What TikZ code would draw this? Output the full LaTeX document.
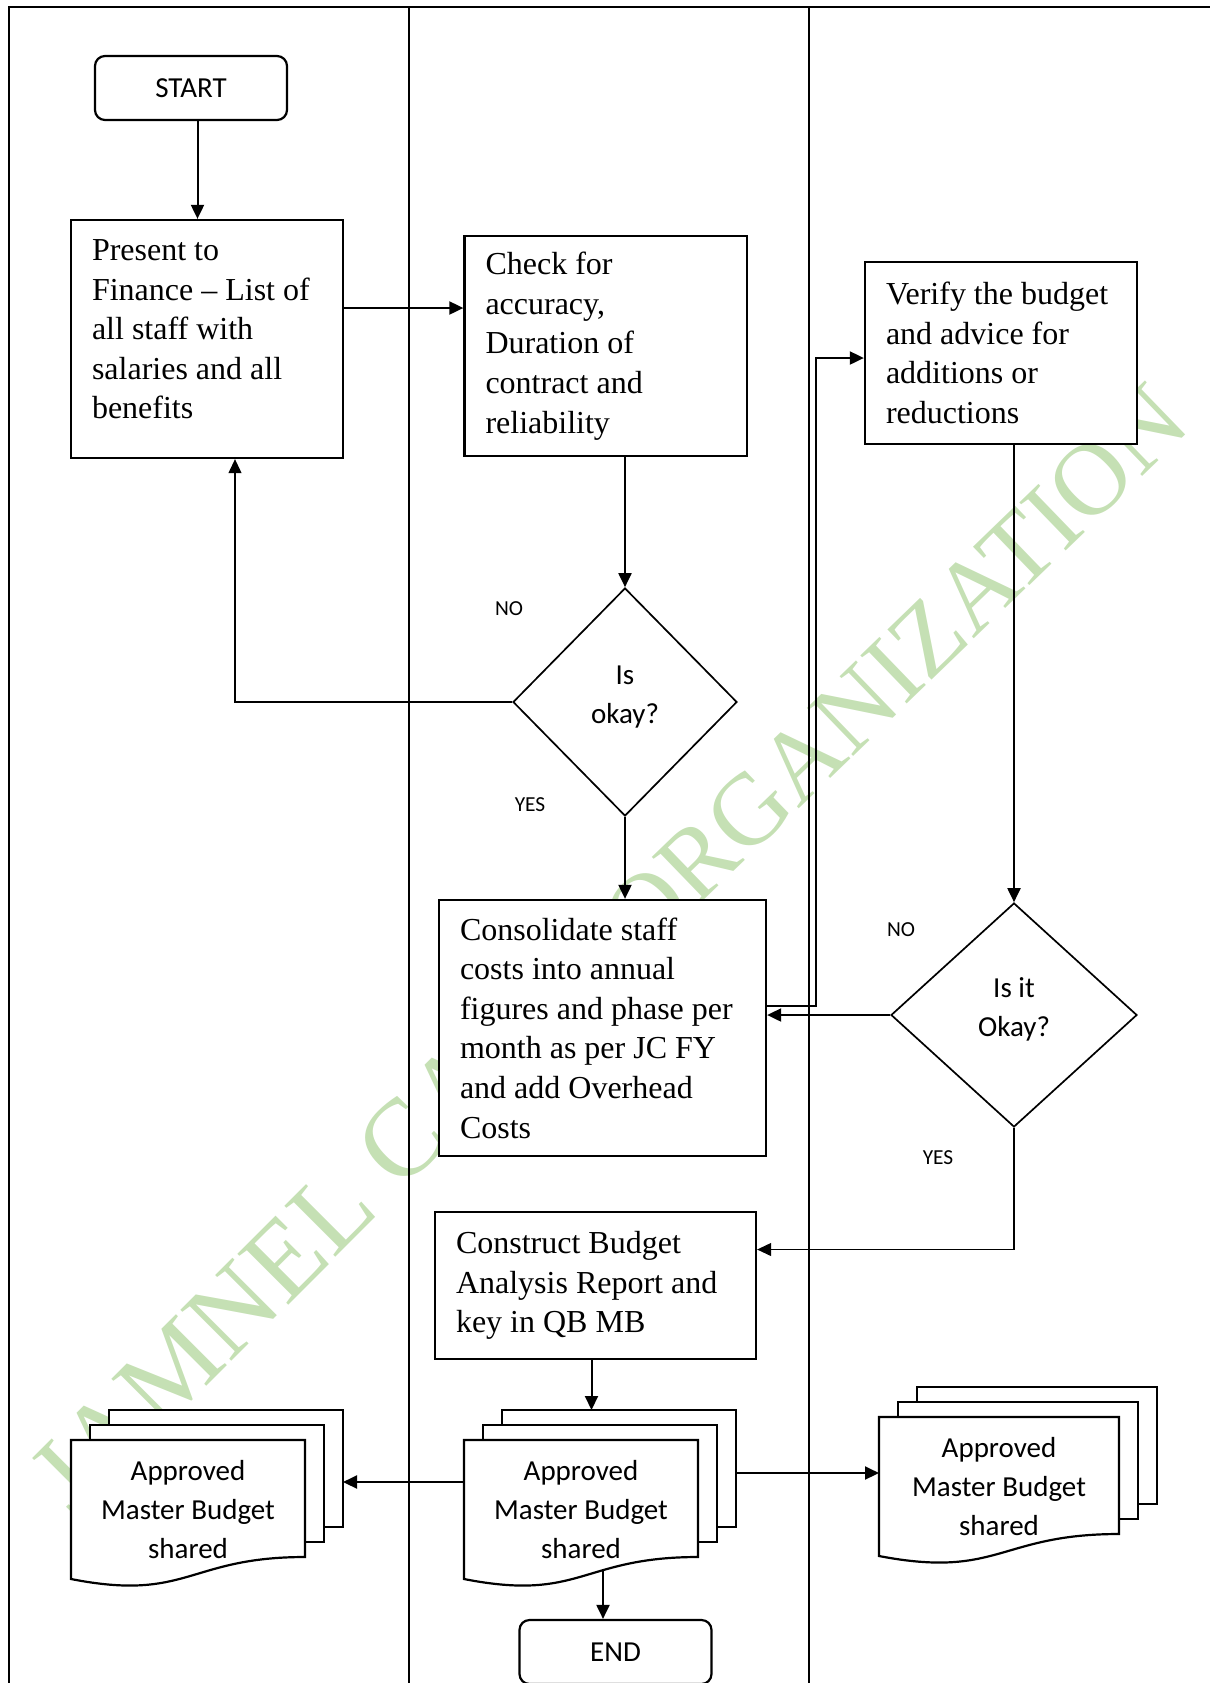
\documentclass[tikz,border=0pt]{standalone}
\usepackage{fontspec}
\setmainfont{Liberation Serif}
\newfontfamily\calibrifont{Carlito}
\usepackage{xcolor}
\usetikzlibrary{shapes.geometric, positioning, arrows.meta, calc}
\definecolor{wmgreen}{HTML}{C5E0B4}

\begin{document}
\begin{tikzpicture}[
    x=0.5pt, y=-0.5pt,
    lane/.style={line width=0.85pt},
    process/.style={draw, rectangle, line width=1.15pt, fill=white, align=left, inner xsep=10.5pt, inner ysep=0pt, font=\fontsize{16}{19.8}\selectfont, execute at begin node={\spaceskip=0.25em\relax}},
    terminal/.style={draw, rectangle, rounded corners=5pt, line width=1.1pt, fill=white, minimum width=96pt, minimum height=32pt, font=\calibrifont\fontsize{14.5}{17}\selectfont},
    decision/.style={draw, diamond, line width=0.85pt, fill=white, inner sep=0pt, align=center, font=\calibrifont\fontsize{14.5}{19.5}\selectfont},
    answer/.style={inner sep=0pt, font=\calibrifont\fontsize{10.7}{12}\selectfont},
    doctext/.style={align=center, inner sep=0pt, font=\calibrifont\fontsize{14.5}{19.5}\selectfont},
    docline/.style={draw, line width=1.1pt, fill=white},
    arr/.style={line width=1pt, -{Triangle[length=7pt, width=6.5pt]}},
    thinarr/.style={line width=0.55pt, -{Triangle[length=7pt, width=6.5pt]}},
    watermark/.style={text=wmgreen, inner sep=0pt, anchor=base west},
    pics/mdoc/.style={code={
        \draw[docline] (38,-30) rectangle +(#1,117);
        \draw[docline] (19,-15) rectangle +(#1,117);
        \draw[docline] (0,0) -- (#1,0) -- (#1,117) .. controls (#1/2,117) and (#1/2,162) .. (0,139) -- cycle;
        \node[doctext] at (#1/2,70) {Approved\\Master Budget\\shared};
        \coordinate (-top) at (88,-30);
        \coordinate (-left) at (0,42);
        \coordinate (-right) at (#1+38,33);
        \coordinate (-bot) at (139,130);
    }}
]
    \useasboundingbox (0,0) rectangle (1210,1683);

    % watermark
    \node[watermark, rotate=45, font=\fontsize{55}{55}\selectfont] (wmA) at (74,1519) {JAMNEL CA};
    \node[watermark, rotate=44, font=\fontsize{51}{51}\selectfont] (wmB) at (643,959) {ORGANIZATION};

    % lanes
    \draw[lane] (9,1690) -- (9,7) -- (1215,7);
    \draw[lane] (409,7) -- (409,1690);
    \draw[lane] (809,7) -- (809,1690);

    % steps
    \node[terminal] (start) at (191,88) {START};
    \node[process, text width=115pt, minimum height=119pt] (present) at (207,339) {Present to\\Finance – List of\\all staff with\\salaries and all\\benefits\\[-10pt]\mbox{}};
    \node[process, text width=120.25pt, minimum height=110pt] (check) at (605.75,346) {Check for\\accuracy,\\Duration of\\contract and\\reliability};
    \node[process, text width=115pt, minimum height=91pt] (verify) at (1001,353) {Verify the budget\\and advice for\\additions or\\reductions};
    \node[decision, minimum width=112pt, minimum height=114pt] (dia1) at (625,702) {Is\\okay?\\[-12pt]\mbox{}};
    \node[process, text width=142.5pt, minimum height=128pt] (consol) at (602.5,1028) {Consolidate staff\\costs into annual\\figures and phase per\\month as per JC FY\\and add Overhead\\Costs};
    \node[decision, minimum width=123pt, minimum height=112pt] (dia2) at (1014,1015) {Is it\\Okay?\\[-12pt]\mbox{}};
    \node[process, text width=139.5pt, minimum height=73.5pt] (construct) at (595.5,1285.5) {Construct Budget\\Analysis Report and\\key in QB MB};
    \node[terminal] (finish) at (615.5,1652) {END};

    % documents
    \pic (docL) at (71,1440) {mdoc=234};
    \pic (docM) at (464,1440) {mdoc=234};
    \pic (docR) at (879,1417) {mdoc=240};

    % answers
    \node[answer] (no1) at (509,609) {NO};
    \node[answer] (yes1) at (530,805) {YES};
    \node[answer] (no2) at (901,930) {NO};
    \node[answer] (yes2) at (938,1158) {YES};

    % connectors
    \coordinate (loopx) at (816,700);
    \draw[arr] ([xshift=3.25pt]start.south) -- ([xshift=3.25pt]start.south |- present.north);
    \draw[arr] ([yshift=15.5pt]present.east) -- ([yshift=15.5pt]present.east -| check.west);
    \draw[arr] (check.south -| dia1.north) -- (dia1.north);
    \draw[thinarr] (dia1.west) -| ([xshift=14pt]present.south);
    \draw[arr] (dia1.south) -- (dia1.south |- consol.north);
    \draw[arr] ([yshift=11pt]consol.east) -| (loopx) |- ([yshift=-2.5pt]verify.west);
    \draw[arr] (dia2.north |- verify.south) -- (dia2.north);
    \draw[arr] (dia2.west) -- (dia2.west -| consol.east);
    \draw[thinarr] (dia2.south) |- ([yshift=18pt]construct.east);
    \draw[arr] ([xshift=-2pt]construct.south) -- ([xshift=-2pt]construct.south |- docM-top);
    \draw[arr] (docM-left) -- (docM-left -| docL-right);
    \draw[arr] (docM-right) -- (docM-right -| docR-left);
    \draw[arr] (docM-bot) -- (docM-bot |- finish.north);

\end{tikzpicture}
\end{document}
